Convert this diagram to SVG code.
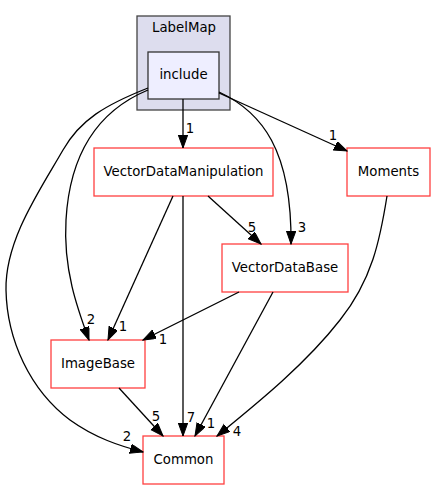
<svg xmlns="http://www.w3.org/2000/svg" width="436" height="489" viewBox="0 0 436 489">
<defs>
<style>
.node rect{fill:#ffffff;stroke:#ff4040;stroke-width:1.3}
.t{font-family:"DejaVu Sans",sans-serif;font-size:13.3px;fill:#000;text-anchor:middle}
.e{fill:none;stroke:#000;stroke-width:1.3}
.l{font-family:"DejaVu Sans",sans-serif;font-size:13.3px;fill:#000;text-anchor:middle}
</style>
<marker id="a" markerWidth="14" markerHeight="11" refX="13" refY="4.7" orient="auto" markerUnits="userSpaceOnUse">
<path d="M0,0 L13,4.7 L0,9.4 z" fill="#000" stroke="#000" stroke-width="1"/>
</marker>
</defs>
<rect width="436" height="489" fill="#fff"/>
<g id="cluster_LabelMap">
<rect x="137" y="16" width="93" height="94" fill="#ddddee" stroke="#444" stroke-width="1.3"/>
<text class="t" x="184" y="32">LabelMap</text>
</g>
<g id="include">
<rect x="148" y="52" width="71" height="47" fill="#eeeeff" stroke="#333" stroke-width="1.3"/>
<text class="t" x="183.5" y="79">include</text>
</g>
<g id="VectorDataManipulation" class="node">
<rect x="94" y="148" width="179" height="48"/>
<text class="t" x="183.5" y="176">VectorDataManipulation</text>
</g>
<g id="Moments" class="node">
<rect x="347" y="148" width="83" height="48"/>
<text class="t" x="388.5" y="176">Moments</text>
</g>
<g id="VectorDataBase" class="node">
<rect x="222" y="244" width="126" height="48"/>
<text class="t" x="285" y="272">VectorDataBase</text>
</g>
<g id="ImageBase" class="node">
<rect x="51" y="340" width="94" height="48"/>
<text class="t" x="98" y="368">ImageBase</text>
</g>
<g id="Common" class="node">
<rect x="143" y="436" width="81" height="48"/>
<text class="t" x="183.5" y="464">Common</text>
</g>
<g id="edges">
<path class="e" marker-end="url(#a)" d="M183,99 L183,148"/>
<text class="l" x="190" y="133">1</text>
<path class="e" marker-end="url(#a)" d="M219,93 L347,151"/>
<text class="l" x="333" y="140">1</text>
<path class="e" marker-end="url(#a)" d="M219,92 C262,112 292,150 291,244"/>
<text class="l" x="302" y="232">3</text>
<path class="e" marker-end="url(#a)" d="M148,90 C100,110 70,150 66,220 C63,270 78,310 89,340"/>
<text class="l" x="91" y="324">2</text>
<path class="e" marker-end="url(#a)" d="M148,88 C105,105 80,120 63,150 C40,190 5,240 6,290 C7,340 30,390 70,420 C95,438 120,446 143,452"/>
<text class="l" x="127" y="441">2</text>
<path class="e" marker-end="url(#a)" d="M173,196 L108,340"/>
<text class="l" x="123" y="331">1</text>
<path class="e" marker-end="url(#a)" d="M183,196 L183,436"/>
<text class="l" x="191" y="422">7</text>
<path class="e" marker-end="url(#a)" d="M208,196 L261,244"/>
<text class="l" x="252" y="232">5</text>
<path class="e" marker-end="url(#a)" d="M239,292 L143,340"/>
<text class="l" x="163" y="344">1</text>
<path class="e" marker-end="url(#a)" d="M273,292 L195,436"/>
<text class="l" x="211" y="428">1</text>
<path class="e" marker-end="url(#a)" d="M119,388 L163,436"/>
<text class="l" x="156" y="421">5</text>
<path class="e" marker-end="url(#a)" d="M387,196 C380,240 372,280 340,320 C305,365 255,405 217,436"/>
<text class="l" x="237" y="436">4</text>
</g>
</svg>
